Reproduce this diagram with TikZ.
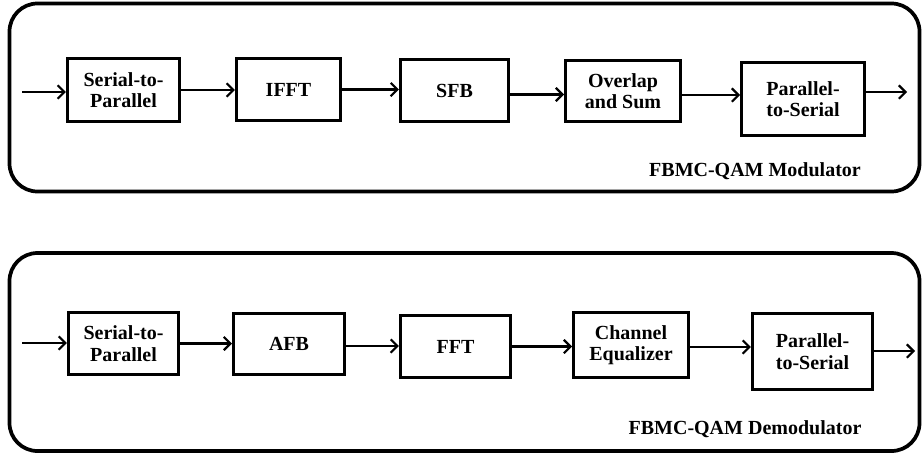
\documentclass[tikz,border=0pt]{standalone}
\usepackage{fontspec}
\setmainfont{Liberation Serif}
\usetikzlibrary{arrows.meta,positioning}

\begin{document}
\begin{tikzpicture}[x=0.75pt,y=-0.75pt,font=\bfseries\fontsize{15}{16}\selectfont,box/.style={draw,line width=2.5pt,align=center,inner sep=2pt},frame/.style={draw,line width=2.8pt,rounded corners=21pt},flow/.style={-{Straight Barb[length=5pt,width=10pt]},line width=1.6pt}]
 \useasboundingbox (0,0) rectangle (923,461);
 % modulator
 \draw[frame] (9.5,3.5) rectangle (919.5,191.5);
 \node[box,minimum width=84pt,minimum height=47pt] (sp1) at (123.5,90) {Serial-to-\\Parallel};
 \node[box,minimum width=78pt,minimum height=46.5pt] (ifft) at (288.5,89.5) {IFFT};
 \node[box,minimum width=81pt,minimum height=46.5pt] (sfb) at (454.5,90.5) {SFB};
 \node[box,minimum width=86pt,minimum height=46pt] (ovl) at (623,91) {Overlap\\and Sum};
 \node[box,minimum width=92pt,minimum height=55pt] (ps1) at (803,99) {Parallel-\\to-Serial};
 \node (modlbl) at (755,171) {FBMC-QAM Modulator};
 \coordinate (in1) at (22,92);
 \coordinate (out1) at (907,92);
 \draw[flow] (in1) -- (in1 -| sp1.west);
 \draw[flow] (sp1.east) -- (sp1.east -| ifft.west);
 \draw[flow] (ifft.east) -- (ifft.east -| sfb.west);
 \draw[flow] ([yshift=-3pt]sfb.east) -- ([yshift=-3pt]sfb.east -| ovl.west);
 \draw[flow] ([yshift=-3pt]ovl.east) -- ([yshift=-3pt]ovl.east -| ps1.west);
 \draw[flow] (ps1.east |- out1) -- (out1);
 % demodulator
 \draw[frame] (9.5,253) rectangle (919.5,451);
 \node[box,minimum width=82.5pt,minimum height=46.5pt] (sp2) at (123.5,343.5) {Serial-to-\\Parallel};
 \node[box,minimum width=83pt,minimum height=46pt] (afb) at (289,344) {AFB};
 \node[box,minimum width=82.5pt,minimum height=46.5pt] (fft) at (455.5,346.5) {FFT};
 \node[box,minimum width=86pt,minimum height=49pt] (eq) at (631,345) {Channel\\Equalizer};
 \node[box,minimum width=90pt,minimum height=57pt] (ps2) at (812.5,351.5) {Parallel-\\to-Serial};
 \node (demodlbl) at (745,429) {FBMC-QAM Demodulator};
 \coordinate (in2) at (22,343);
 \coordinate (out2) at (915,351);
 \draw[flow] (in2) -- (in2 -| sp2.west);
 \draw[flow] (sp2.east) -- (sp2.east -| afb.west);
 \draw[flow] ([yshift=-1.5pt]afb.east) -- ([yshift=-1.5pt]afb.east -| fft.west);
 \draw[flow] (fft.east) -- (fft.east -| eq.west);
 \draw[flow] ([yshift=-1.5pt]eq.east) -- ([yshift=-1.5pt]eq.east -| ps2.west);
 \draw[flow] (ps2.east |- out2) -- (out2);
\end{tikzpicture}
\end{document}
